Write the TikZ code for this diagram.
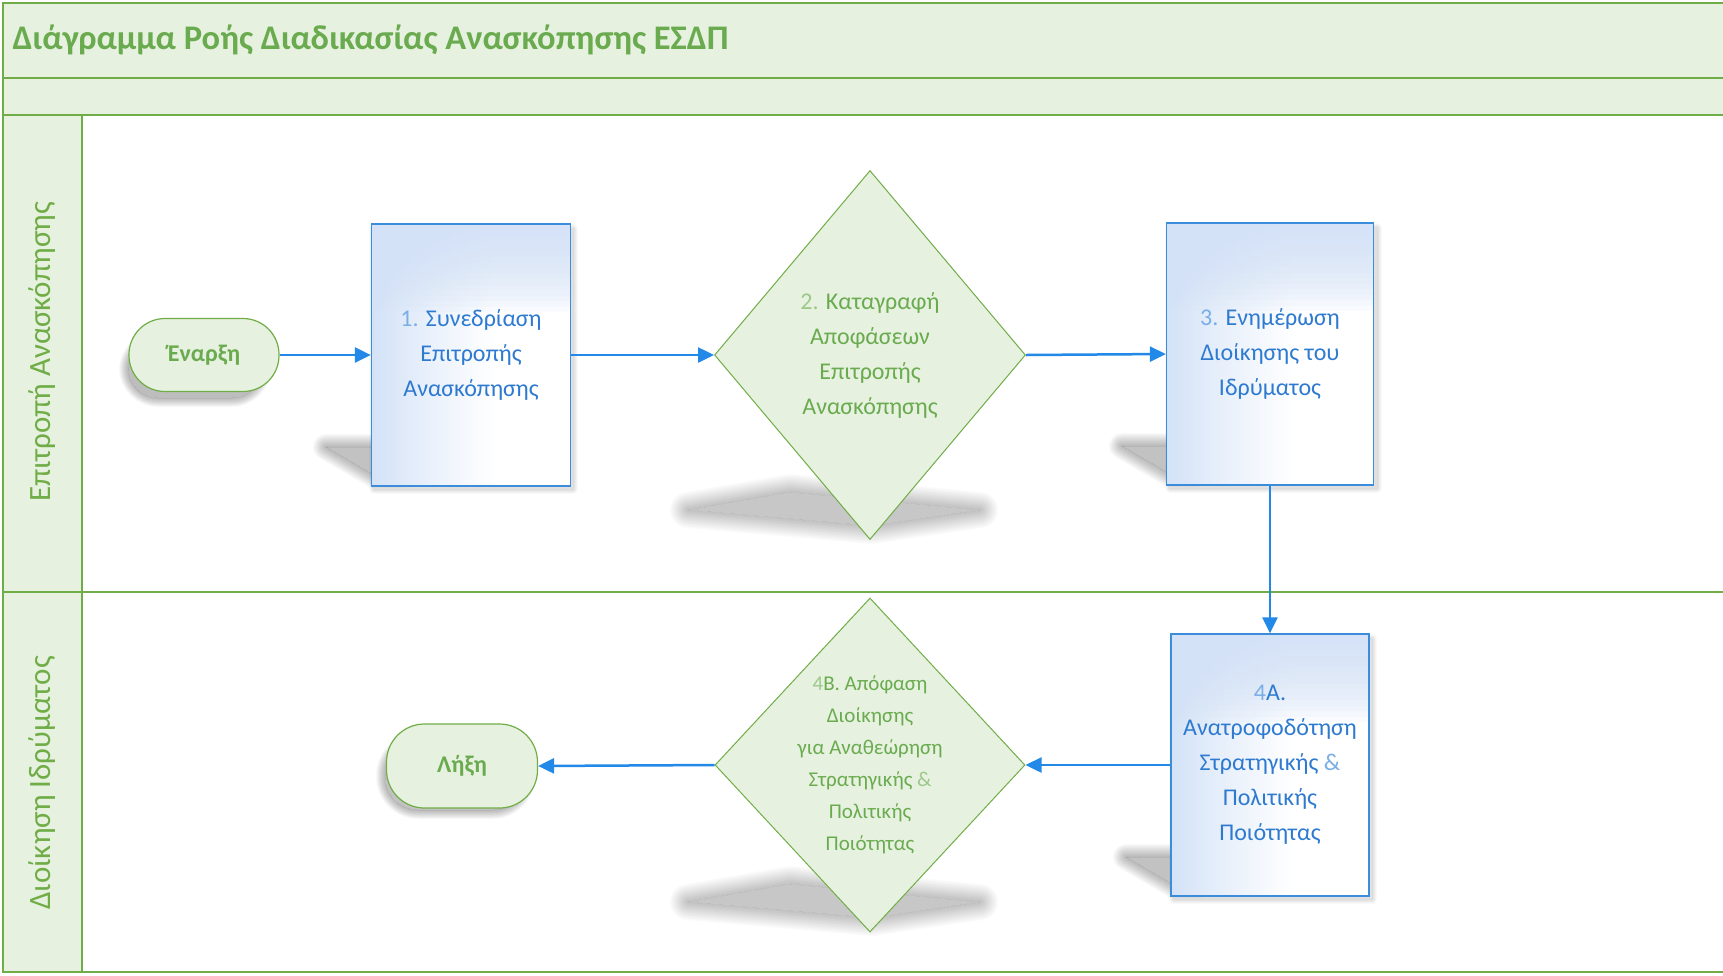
\documentclass[tikz,border=0pt]{standalone}
\usepackage{fontspec}
\setmainfont{Carlito}
\usetikzlibrary{arrows.meta,shapes.geometric,calc}
\definecolor{lgreen}{HTML}{E6F1E0}
\definecolor{dgreen}{HTML}{70AD47}
\definecolor{tgreen}{HTML}{6AAB4F}
\definecolor{boxline}{HTML}{3C8CDC}
\definecolor{boxblue}{HTML}{D3E2F7}
\definecolor{boxmid}{HTML}{EAF1FB}
\definecolor{boxtext}{HTML}{2D7AD0}
\definecolor{arrowblue}{HTML}{2389E8}
\definecolor{numblue}{HTML}{7AAEE6}
\definecolor{numgreen}{HTML}{9CC98A}
\pgfdeclarehorizontalshading{boxh}{100bp}{color(0bp)=(boxblue); color(25bp)=(boxblue); color(40bp)=(boxmid); color(56bp)=(white); color(100bp)=(white)}
% soft shadow: uniform fill inside, linear fall-off outside
\newcommand{\blurfill}[4]{% #1 scope options, #2 path, #3 inner opacity, #4 radius
  \begin{scope}[#1]
  \fill[black, opacity=#3] #2;
  \begin{scope}[even odd rule]
    \clip (-200,-200) rectangle (1950,1200) #2;
    \foreach \i in {1,...,12}{%
      \pgfmathsetmacro{\lw}{#4*\i/6}%
      \pgfmathsetmacro{\op}{1-(1-#3)^(1/12)}%
      \draw[black, opacity=\op, line width=\lw pt, line join=round] #2;}
  \end{scope}
  \end{scope}}
\begin{document}
\begin{tikzpicture}[x=1pt,y=-1pt,
  frame/.style={draw=dgreen, line width=1.4pt},
  term/.style={draw=dgreen, fill=lgreen, line width=1.2pt, text=tgreen, font=\fontsize{24}{28}\selectfont\bfseries},
  proc/.style={rectangle, draw=boxline, line width=1.3pt, shading=boxh, shade, text=boxtext, align=center,
     font=\fontsize{24}{35}\selectfont,
     path picture={\foreach \k in {1,...,16}{\fill[boxblue, opacity=0.12] (path picture bounding box.north west) rectangle ([yshift=-5.5*\k pt]path picture bounding box.north east);}}},
  dec/.style={diamond, draw=dgreen, fill=lgreen, line width=1pt, inner sep=0pt},
  dtext/.style={text=tgreen, align=center, font=\fontsize{24}{35}\selectfont},
  lanelabel/.style={text=dgreen, font=\fontsize{31}{34}\selectfont, rotate=90},
  arr/.style={draw=arrowblue, line width=2.5pt, -{Triangle[length=16pt,width=15pt]}}]
\useasboundingbox (0,0) rectangle (1723,975);
\fill[white] (0,0) rectangle (1723,975);
% bands and lanes
\filldraw[frame, fill=lgreen] (3,3) rectangle (1730,78);
\filldraw[frame, fill=lgreen] (3,78) rectangle (1730,115);
\draw[frame] (3,115) rectangle (1730,592);
\draw[frame] (3,592) rectangle (1730,972);
\filldraw[frame, fill=lgreen] (3,115) rectangle (82,592);
\filldraw[frame, fill=lgreen] (3,592) rectangle (82,972);
\node[anchor=west, text=tgreen, font=\fontsize{34.5}{40}\selectfont\bfseries] (title) at (9,40) {Διάγραμμα Ροής Διαδικασίας Ανασκόπησης ΕΣΔΠ};
\node[lanelabel] (lane1) at (42,352) {Επιτροπή Ανασκόπησης};
\node[lanelabel] (lane2) at (42,783) {Διοίκηση Ιδρύματος};
% shadows
\blurfill{rounded corners=30pt}{(128,340) rectangle (262,398)}{0.26}{9}
\blurfill{rounded corners=33pt}{(385,742) rectangle (526,810)}{0.24}{9}
\blurfill{}{(326,447) -- (400,447) -- (400,475) -- (374,475) -- cycle}{0.24}{13}
\blurfill{}{(1122,446) -- (1196,446) -- (1196,474) -- (1170,474) -- cycle}{0.24}{13}
\blurfill{}{(1126,857) -- (1200,857) -- (1200,885) -- (1174,885) -- cycle}{0.24}{13}
\blurfill{}{(374,229) rectangle (573,489)}{0.12}{5}
\blurfill{}{(1170,228) rectangle (1377,488)}{0.12}{5}
\blurfill{}{(1174,639) rectangle (1372,899)}{0.12}{5}
\blurfill{}{(688,510) -- (790,492) -- (980,510) -- (872,526) -- cycle}{0.22}{18}
\blurfill{}{(688,902) -- (790,884) -- (980,902) -- (872,918) -- cycle}{0.22}{18}
% nodes
\node[term, minimum width=150pt, minimum height=73pt, rounded corners=36pt] (start) at (204,355) {Έναρξη};
\node[proc, minimum width=199pt, minimum height=262pt] (p1) at (471,355) {{\color{numblue}1.} Συνεδρίαση\\Επιτροπής\\Ανασκόπησης};
\node[dec, minimum width=311pt, minimum height=369pt] (d2) at (870,355) {};
\node[dtext] (d2t) at (d2.center) {{\color{numgreen}2.} Καταγραφή\\Αποφάσεων\\Επιτροπής\\Ανασκόπησης};
\node[proc, minimum width=207pt, minimum height=262pt] (p3) at (1270,354) {{\color{numblue}3.} Ενημέρωση\\Διοίκησης του\\Ιδρύματος};
\node[proc, minimum width=198pt, minimum height=262pt] (p4) at (1270,765) {{\color{numblue}4}Α.\\Ανατροφοδότηση\\Στρατηγικής {\color{numblue}\&}\\Πολιτικής\\Ποιότητας};
\node[dec, minimum width=310pt, minimum height=334pt] (d4) at (870,765) {};
\node[dtext, font=\fontsize{21}{32}\selectfont] (d4t) at (d4.center) {{\color{numgreen}4}Β. Απόφαση\\Διοίκησης\\για Αναθεώρηση\\Στρατηγικής {\color{numgreen}\&}\\Πολιτικής\\Ποιότητας};
\node[term, minimum width=151pt, minimum height=84pt, rounded corners=38pt] (end) at (462,766) {Λήξη};
% connectors
\draw[arr] (start.east) -- (p1.west);
\draw[arr] (p1.east) -- (d2.west);
\draw[arr] (d2.east) -- (p3.west);
\draw[arr] (p3.south) -- (p4.north);
\draw[arr] (p4.west) -- (d4.east);
\draw[arr] (d4.west) -- (end.east);
\end{tikzpicture}
\end{document}
